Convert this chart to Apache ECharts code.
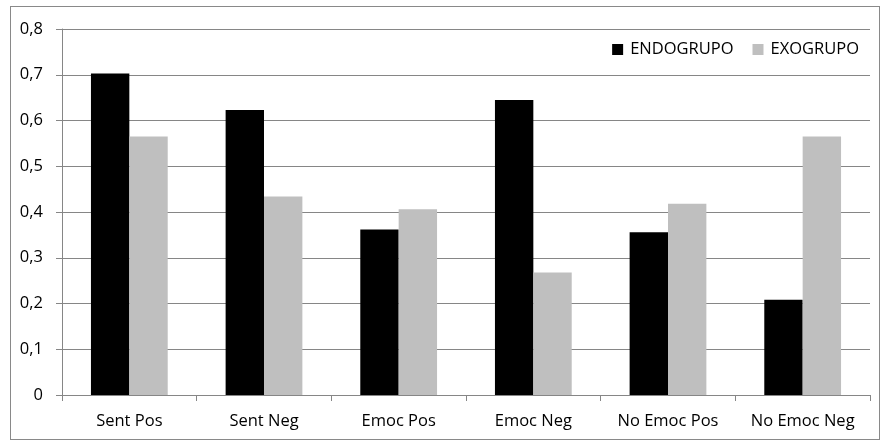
<!DOCTYPE html>
<html><head><meta charset="utf-8">
<script src="https://cdn.jsdelivr.net/npm/echarts@6/dist/echarts.min.js"></script>
<style>html,body{margin:0;padding:0;background:#fff}#c{width:880px;height:443px}
#frame{position:absolute;left:10px;top:6px;width:870px;height:434px;border:1px solid #898989;box-sizing:border-box;pointer-events:none}</style>
</head><body><div id="c"></div><div id="frame"></div>
<script>
const categories = ['Sent Pos', 'Sent Neg', 'Emoc Pos', 'Emoc Neg', 'No Emoc Pos', 'No Emoc Neg'];
const endogrupo = [0.703, 0.623, 0.362, 0.645, 0.356, 0.208];
const exogrupo = [0.565, 0.434, 0.406, 0.268, 0.418, 0.565];
const seriesNames = ['ENDOGRUPO', 'EXOGRUPO'];

const chart = echarts.init(document.getElementById('c'), null, {renderer: 'canvas'});
const font = "'Open Sans', 'Noto Sans', sans-serif";
chart.setOption({
  animation: false,
  textStyle: {fontFamily: font},
  grid: {left: 62, right: 10, top: 29, bottom: 48, containLabel: false},
  legend: {
    right: 16, top: 36, itemWidth: 11, itemHeight: 11, itemGap: 19,
    icon: 'rect',
    textStyle: {fontSize: 16.5, color: '#000', fontFamily: font, padding: [0,0,0,2]},
    data: seriesNames
  },
  xAxis: {
    type: 'category', data: categories,
    axisLine: {lineStyle: {color: '#868686', width: 1}},
    axisTick: {show: true, length: 6, lineStyle: {color: '#868686'}},
    axisLabel: {fontSize: 16.5, color: '#000', margin: 18, fontFamily: font, interval: 0}
  },
  yAxis: {
    type: 'value', min: 0, max: 0.8, interval: 0.1,
    axisLine: {show: true, lineStyle: {color: '#868686'}},
    axisTick: {show: true, length: 6, lineStyle: {color: '#868686'}},
    splitLine: {lineStyle: {color: '#868686', width: 1}},
    axisLabel: {fontSize: 16.5, color: '#000', margin: 19, fontFamily: font,
      formatter: v => (Math.round(v * 10) / 10).toString().replace('.', ',')}
  },
  series: [
    {name: seriesNames[0], type: 'bar', data: endogrupo, barGap: '0%', barCategoryGap: '43%',
     itemStyle: {color: '#000000'}},
    {name: seriesNames[1], type: 'bar', data: exogrupo,
     itemStyle: {color: '#bfbfbf'}}
  ]
});
</script></body></html>
